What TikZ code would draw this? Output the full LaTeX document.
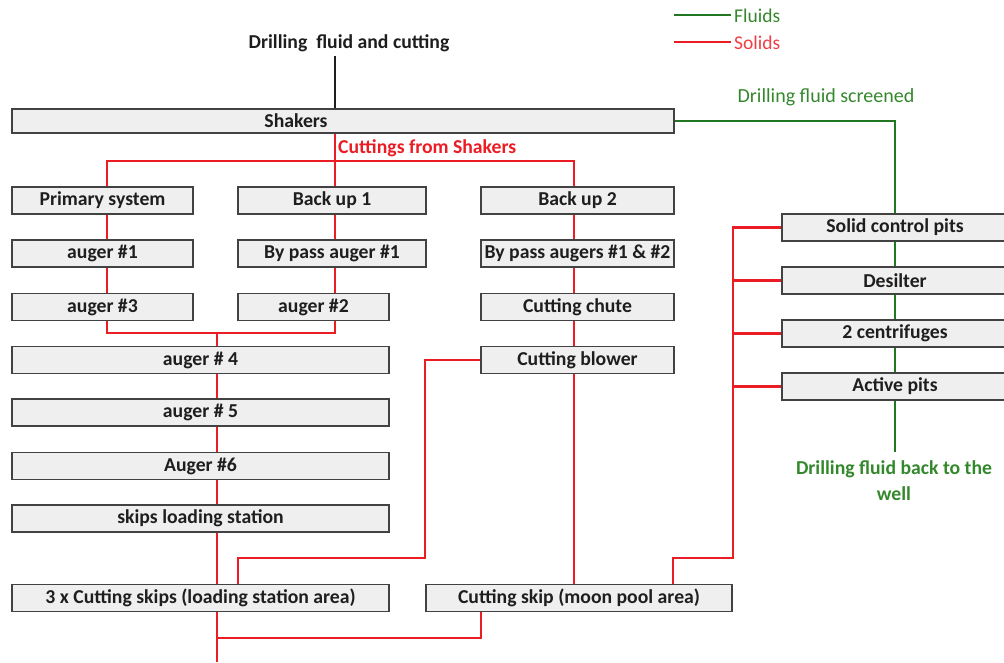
\documentclass[tikz,border=0pt]{standalone}
\usepackage{fontspec}
\setmainfont{Carlito}
\usetikzlibrary{backgrounds}

\definecolor{boxfill}{RGB}{239,239,239}
\definecolor{boxline}{RGB}{66,66,66}
\definecolor{ink}{RGB}{30,30,30}
\definecolor{solid}{RGB}{236,28,36}
\definecolor{fluid}{RGB}{34,120,34}
\definecolor{fluidtext}{RGB}{52,136,44}

\tikzset{
  stage/.style={draw=boxline, fill=boxfill, line width=1.7pt, inner sep=0pt,
    minimum height=27pt, text=ink, font=\fontsize{19.7}{24}\selectfont\bfseries},
  solidline/.style={draw=solid, line width=2.5pt},
  fluidline/.style={draw=fluid, line width=2.5pt},
  feedline/.style={draw=ink, line width=2.5pt},
  tag/.style={inner sep=0pt, font=\fontsize{19.7}{24}\selectfont\bfseries},
  keytag/.style={inner sep=0pt, anchor=west, font=\fontsize{19.5}{24}\selectfont},
}

\begin{document}
\begin{tikzpicture}[x=1pt, y=-1pt]
\useasboundingbox (0,0) rectangle (1004,662);
\clip (0,0) rectangle (1004,662);

% column positions of the vertical runs
\coordinate (colA) at (107,0);
\coordinate (colB) at (335,0);
\coordinate (colC) at (574,0);
\coordinate (colD) at (217,0);
\coordinate (colE) at (238,0);
\coordinate (colF) at (425,0);
\coordinate (colG) at (481,0);
\coordinate (colH) at (673,0);
\coordinate (colR) at (733,0);
\coordinate (colW) at (895,0);

% legend
\coordinate (kf1) at (674,15);
\coordinate (kf2) at (731,15);
\coordinate (ks1) at (674,42);
\coordinate (ks2) at (731,42);
\draw[fluidline] (kf1) -- (kf2);
\draw[solidline] (ks1) -- (ks2);
\node[keytag, text=fluidtext] (kfluid) at (734,16) {Fluids};
\node[keytag, text=solid!85!white] (ksolid) at (734,43) {Solids};

% titles and stream labels
\node[tag, text=ink] (feed) at (349,43) {Drilling\ \ fluid and cutting};
\coordinate (feedtop) at (335,56);
\node[tag, text=solid, anchor=west] (cutlbl) at (338,148) {Cuttings from Shakers};
\node[inner sep=0pt, text=fluidtext, font=\fontsize{20}{24}\selectfont] (screened) at (826,97) {Drilling fluid screened};
\node[tag, text=fluidtext, align=center, font=\fontsize{19.7}{26}\selectfont\bfseries] (back) at (894,481) {Drilling fluid back to the\\well};
\coordinate (greenend) at (895,452);
\coordinate (bottomend) at (217,662);

% stages
\node[stage, minimum width=662pt, minimum height=24pt] (shakers) at (343,121) {};
\node[tag, text=ink] (shakerlbl) at (296,121) {Shakers};

\node[stage, minimum width=181pt] (prim)  at (102.5,200.5) {Primary system};
\node[stage, minimum width=188pt] (bk1)   at (332,200.5)   {Back up 1};
\node[stage, minimum width=193pt] (bk2)   at (577.5,200.5) {Back up 2};

\node[stage, minimum width=181pt] (aug1)  at (102.5,253.5) {auger \#1};
\node[stage, minimum width=188pt] (bpa1)  at (332,253.5)   {By pass auger \#1};
\node[stage, minimum width=193pt] (bpa12) at (577.5,253.5) {By pass augers \#1 \& \#2};

\node[stage, minimum width=181pt] (aug3)  at (102.5,307)   {auger \#3};
\node[stage, minimum width=151pt] (aug2)  at (313.5,307)   {auger \#2};
\node[stage, minimum width=193pt] (chute) at (577.5,307)   {Cutting chute};

\node[stage, minimum width=377pt] (aug4)  at (200.5,360)   {auger \# 4};
\node[stage, minimum width=193pt] (blower) at (577.5,360)  {Cutting blower};

\node[stage, minimum width=377pt] (aug5)  at (200.5,412.5) {auger \# 5};
\node[stage, minimum width=377pt] (aug6)  at (200.5,466)   {Auger \#6};
\node[stage, minimum width=377pt] (load)  at (200.5,518.5) {skips loading station};
\node[stage, minimum width=377pt] (skips) at (200.5,598)   {3 x Cutting skips (loading station area)};
\node[stage, minimum width=306pt] (moon)  at (579,598)     {Cutting skip (moon pool area)};

\node[stage, minimum width=226pt] (scp)    at (895,227.5) {Solid control pits};
\node[stage, minimum width=226pt] (desilt) at (895,280.5) {Desilter};
\node[stage, minimum width=226pt] (centr)  at (895,333.5) {2 centrifuges};
\node[stage, minimum width=226pt] (active) at (895,386.5) {Active pits};

\coordinate (split) at (335,161);
\coordinate (merge) at (217,333);
\coordinate (skipjoin) at (217,638);
\coordinate (blowdrop) at (425,558);
\coordinate (pitdrop) at (733,558);

\begin{scope}[on background layer]
  % feed to the shakers
  \draw[feedline] (feedtop) -- (shakers.north -| colB);

  % cuttings from the shakers
  \draw[solidline] (shakers.south -| colB) -- (bk1.north -| colB);
  \draw[solidline] (prim.north -| colA) |- (split) -| (bk2.north -| colC);

  % primary system
  \draw[solidline] (prim.south -| colA) -- (aug1.north -| colA);
  \draw[solidline] (aug1.south -| colA) -- (aug3.north -| colA);
  % back up 1
  \draw[solidline] (bk1.south -| colB) -- (bpa1.north -| colB);
  \draw[solidline] (bpa1.south -| colB) -- (aug2.north -| colB);
  % merge into auger 4
  \draw[solidline] (aug3.south -| colA) |- (merge) -| (aug2.south -| colB);
  \draw[solidline] (merge) -- (aug4.north -| colD);
  \draw[solidline] (aug4.south -| colD) -- (aug5.north -| colD);
  \draw[solidline] (aug5.south -| colD) -- (aug6.north -| colD);
  \draw[solidline] (aug6.south -| colD) -- (load.north -| colD);
  \draw[solidline] (load.south -| colD) -- (skips.north -| colD);
  \draw[solidline] (skips.south -| colD) -- (bottomend);
  \draw[solidline] (skipjoin) -| (moon.south -| colG);

  % back up 2
  \draw[solidline] (bk2.south -| colC) -- (bpa12.north -| colC);
  \draw[solidline] (bpa12.south -| colC) -- (chute.north -| colC);
  \draw[solidline] (chute.south -| colC) -- (blower.north -| colC);
  \draw[solidline] (blower.south -| colC) -- (moon.north -| colC);
  \draw[solidline] (blower.west) -| (blowdrop) -| (skips.north -| colE);

  % solids from the mud system
  \draw[solidline] (scp.west) -| (pitdrop) -| (moon.north -| colH);
  \draw[solidline] (desilt.west) -- (desilt.west -| colR);
  \draw[solidline] (centr.west) -- (centr.west -| colR);
  \draw[solidline] (active.west) -- (active.west -| colR);

  % screened fluid
  \draw[fluidline] (shakers.east) -| (scp.north);
  \draw[fluidline] (scp.south) -- (desilt.north);
  \draw[fluidline] (desilt.south) -- (centr.north);
  \draw[fluidline] (centr.south) -- (active.north);
  \draw[fluidline] (active.south) -- (greenend);
\end{scope}
\end{tikzpicture}
\end{document}
